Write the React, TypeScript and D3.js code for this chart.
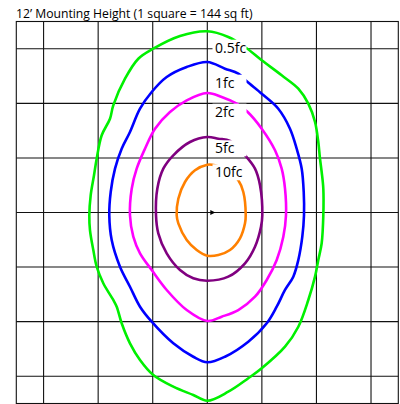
import React from "react";
import * as d3 from "d3";

type Pt = [number, number];

// Isofootcandle contours, in grid squares (1 square = 12 ft), x right / y up from fixture
const levels = ["0.5fc", "1fc", "2fc", "5fc", "10fc"];
const colors = ["#00f000", "#0000ff", "#ff00ff", "#800080", "#ff8000"];

const contour05: Pt[] = [
  [0, 3.32], [0.385, 3.216], [0.691, 3.033], [0.997, 2.789], [1.363, 2.514], [1.668, 2.269],
  [1.851, 1.994], [1.974, 1.658], [2.034, 1.292], [2.065, 0.986], [2.096, 0.742], [2.126, 0.436],
  [2.126, -0.051], [2.096, -0.564], [2.034, -0.87], [1.974, -1.176], [1.851, -1.603], [1.668, -2.093],
  [1.424, -2.459], [0.997, -2.855], [0.751, -3.038], [0.385, -3.284], [0, -3.449],
  [-0.257, -3.344], [-0.623, -3.192], [-0.99, -2.978], [-1.233, -2.703], [-1.417, -2.397],
  [-1.569, -2.03], [-1.66, -1.726], [-1.723, -1.603], [-1.906, -1.297], [-2.027, -0.993],
  [-2.089, -0.687], [-2.15, -0.321], [-2.162, -0.051], [-2.137, 0.315], [-2.076, 0.682],
  [-2.027, 0.986], [-1.935, 1.415], [-1.783, 1.719], [-1.723, 1.964], [-1.508, 2.452],
  [-1.264, 2.818], [-0.99, 3.002], [-0.5, 3.234],
];
const contour1: Pt[] = [
  [0, 2.758], [0.324, 2.635], [0.568, 2.544], [0.722, 2.404], [0.997, 2.177], [1.301, 1.902],
  [1.515, 1.536], [1.638, 1.169], [1.73, 0.803], [1.767, 0.376], [1.772, -0.051], [1.741, -0.443],
  [1.668, -0.87], [1.576, -1.176], [1.424, -1.42], [1.272, -1.726], [1.089, -2.03], [0.751, -2.368],
  [0.324, -2.643], [0, -2.745], [-0.257, -2.643], [-0.623, -2.397], [-1.019, -2.001],
  [-1.233, -1.726], [-1.417, -1.36], [-1.6, -0.993], [-1.752, -0.504], [-1.796, -0.051],
  [-1.77, 0.376], [-1.691, 0.803], [-1.569, 1.169], [-1.417, 1.475], [-1.233, 1.902],
  [-1.019, 2.208], [-0.744, 2.483], [-0.377, 2.666],
];
const contour2: Pt[] = [
  [0, 2.19], [0.264, 2.117], [0.539, 1.994], [0.74, 1.842], [0.997, 1.536], [1.241, 1.14],
  [1.363, 0.803], [1.424, 0.436], [1.442, -0.051], [1.393, -0.443], [1.272, -0.87], [1.089, -1.237],
  [0.874, -1.543], [0.568, -1.787], [0.264, -1.909], [0, -1.988], [-0.377, -1.787], [-0.744, -1.42],
  [-1.019, -1.054], [-1.233, -0.748], [-1.356, -0.443], [-1.417, -0.051], [-1.385, 0.436],
  [-1.294, 0.803], [-1.142, 1.169], [-0.958, 1.536], [-0.684, 1.842], [-0.377, 2.056],
];
const contour5: Pt[] = [
  [0, 1.384], [0.202, 1.352], [0.416, 1.31], [0.691, 1.048], [0.874, 0.803], [0.966, 0.498],
  [1.008, -0.051], [0.984, -0.26], [0.874, -0.627], [0.691, -0.931], [0.385, -1.176], [0, -1.25],
  [-0.257, -1.206], [-0.5, -1.054], [-0.744, -0.748], [-0.898, -0.381], [-0.94, -0.051],
  [-0.916, 0.436], [-0.806, 0.803], [-0.623, 1.048], [-0.317, 1.292],
];
const contour10: Pt[] = [
  [0, 0.876], [0.141, 0.865], [0.4, 0.75], [0.568, 0.59], [0.66, 0.376], [0.704, -0.051],
  [0.691, -0.198], [0.599, -0.473], [0.416, -0.687], [0.202, -0.779], [0, -0.792],
  [-0.194, -0.687], [-0.377, -0.504], [-0.531, -0.198], [-0.561, -0.051], [-0.531, 0.253],
  [-0.409, 0.559], [-0.225, 0.773],
];
const contours = [contour05, contour1, contour2, contour5, contour10];

// Label anchors (left x, baseline y) in grid squares
const labelX = [0.141, 0.141, 0.141, 0.141, 0.141];
const labelY = [2.928, 2.287, 1.756, 1.085, 0.645];

const gridTicks = [-3, -2, -1, 0, 1, 2, 3];
const extent = 3.5;
const title = "12\u2019 Mounting Height (1 square = 144 sq ft)";

export default function App() {
  const W = 400;
  const H = 404;
  const x = d3.scaleLinear().domain([-extent, extent]).range([16.3, 398.3]);
  const y = d3.scaleLinear().domain([-extent, extent]).range([403.5, 21.5]);
  const line = d3
    .line<Pt>()
    .x((d) => x(d[0]))
    .y((d) => y(d[1]))
    .curve(d3.curveCatmullRomClosed.alpha(0.5));
  const font = "'Open Sans', sans-serif";

  return (
    <svg
      width={W}
      height={H}
      style={{ position: "absolute", left: 0, top: 0, background: "#fff" }}
    >
      <rect x={0} y={0} width={W} height={H} fill="#fff" />
      <text x={16} y={18.3} fontFamily={font} fontSize={12.2} fill="#000">
        {title}
      </text>
      <g stroke="#111" strokeWidth={1.1} fill="none">
        {gridTicks.map((t) => (
          <line key={"v" + t} x1={x(t)} x2={x(t)} y1={y(extent)} y2={y(-extent)} />
        ))}
        {gridTicks.map((t) => (
          <line key={"h" + t} x1={x(-extent)} x2={x(extent)} y1={y(t)} y2={y(t)} />
        ))}
        <rect
          x={x(-extent)}
          y={y(extent)}
          width={x(extent) - x(-extent)}
          height={y(-extent) - y(extent)}
        />
      </g>
      <g fill="none" strokeWidth={2.6} strokeLinejoin="round">
        {contours.map((c, i) => (
          <path key={levels[i]} d={line(c) || ""} stroke={colors[i]} />
        ))}
      </g>
      <g>
        {levels.map((l, i) => (
          <rect
            key={"bg" + l}
            x={x(labelX[i]) - 2.5}
            y={y(labelY[i]) - 13}
            width={34}
            height={16}
            fill="#fff"
          />
        ))}
      </g>
      <g fontFamily={font} fontSize={14} fill="#000">
        {levels.map((l, i) => (
          <text key={"t" + l} x={x(labelX[i])} y={y(labelY[i])}>
            {l}
          </text>
        ))}
      </g>
      <path
        d={`M${x(0) + 3},${y(0) - 2.5} L${x(0) + 8},${y(0)} L${x(0) + 3},${y(0) + 2.5} Z`}
        fill="#000"
      />
    </svg>
  );
}
